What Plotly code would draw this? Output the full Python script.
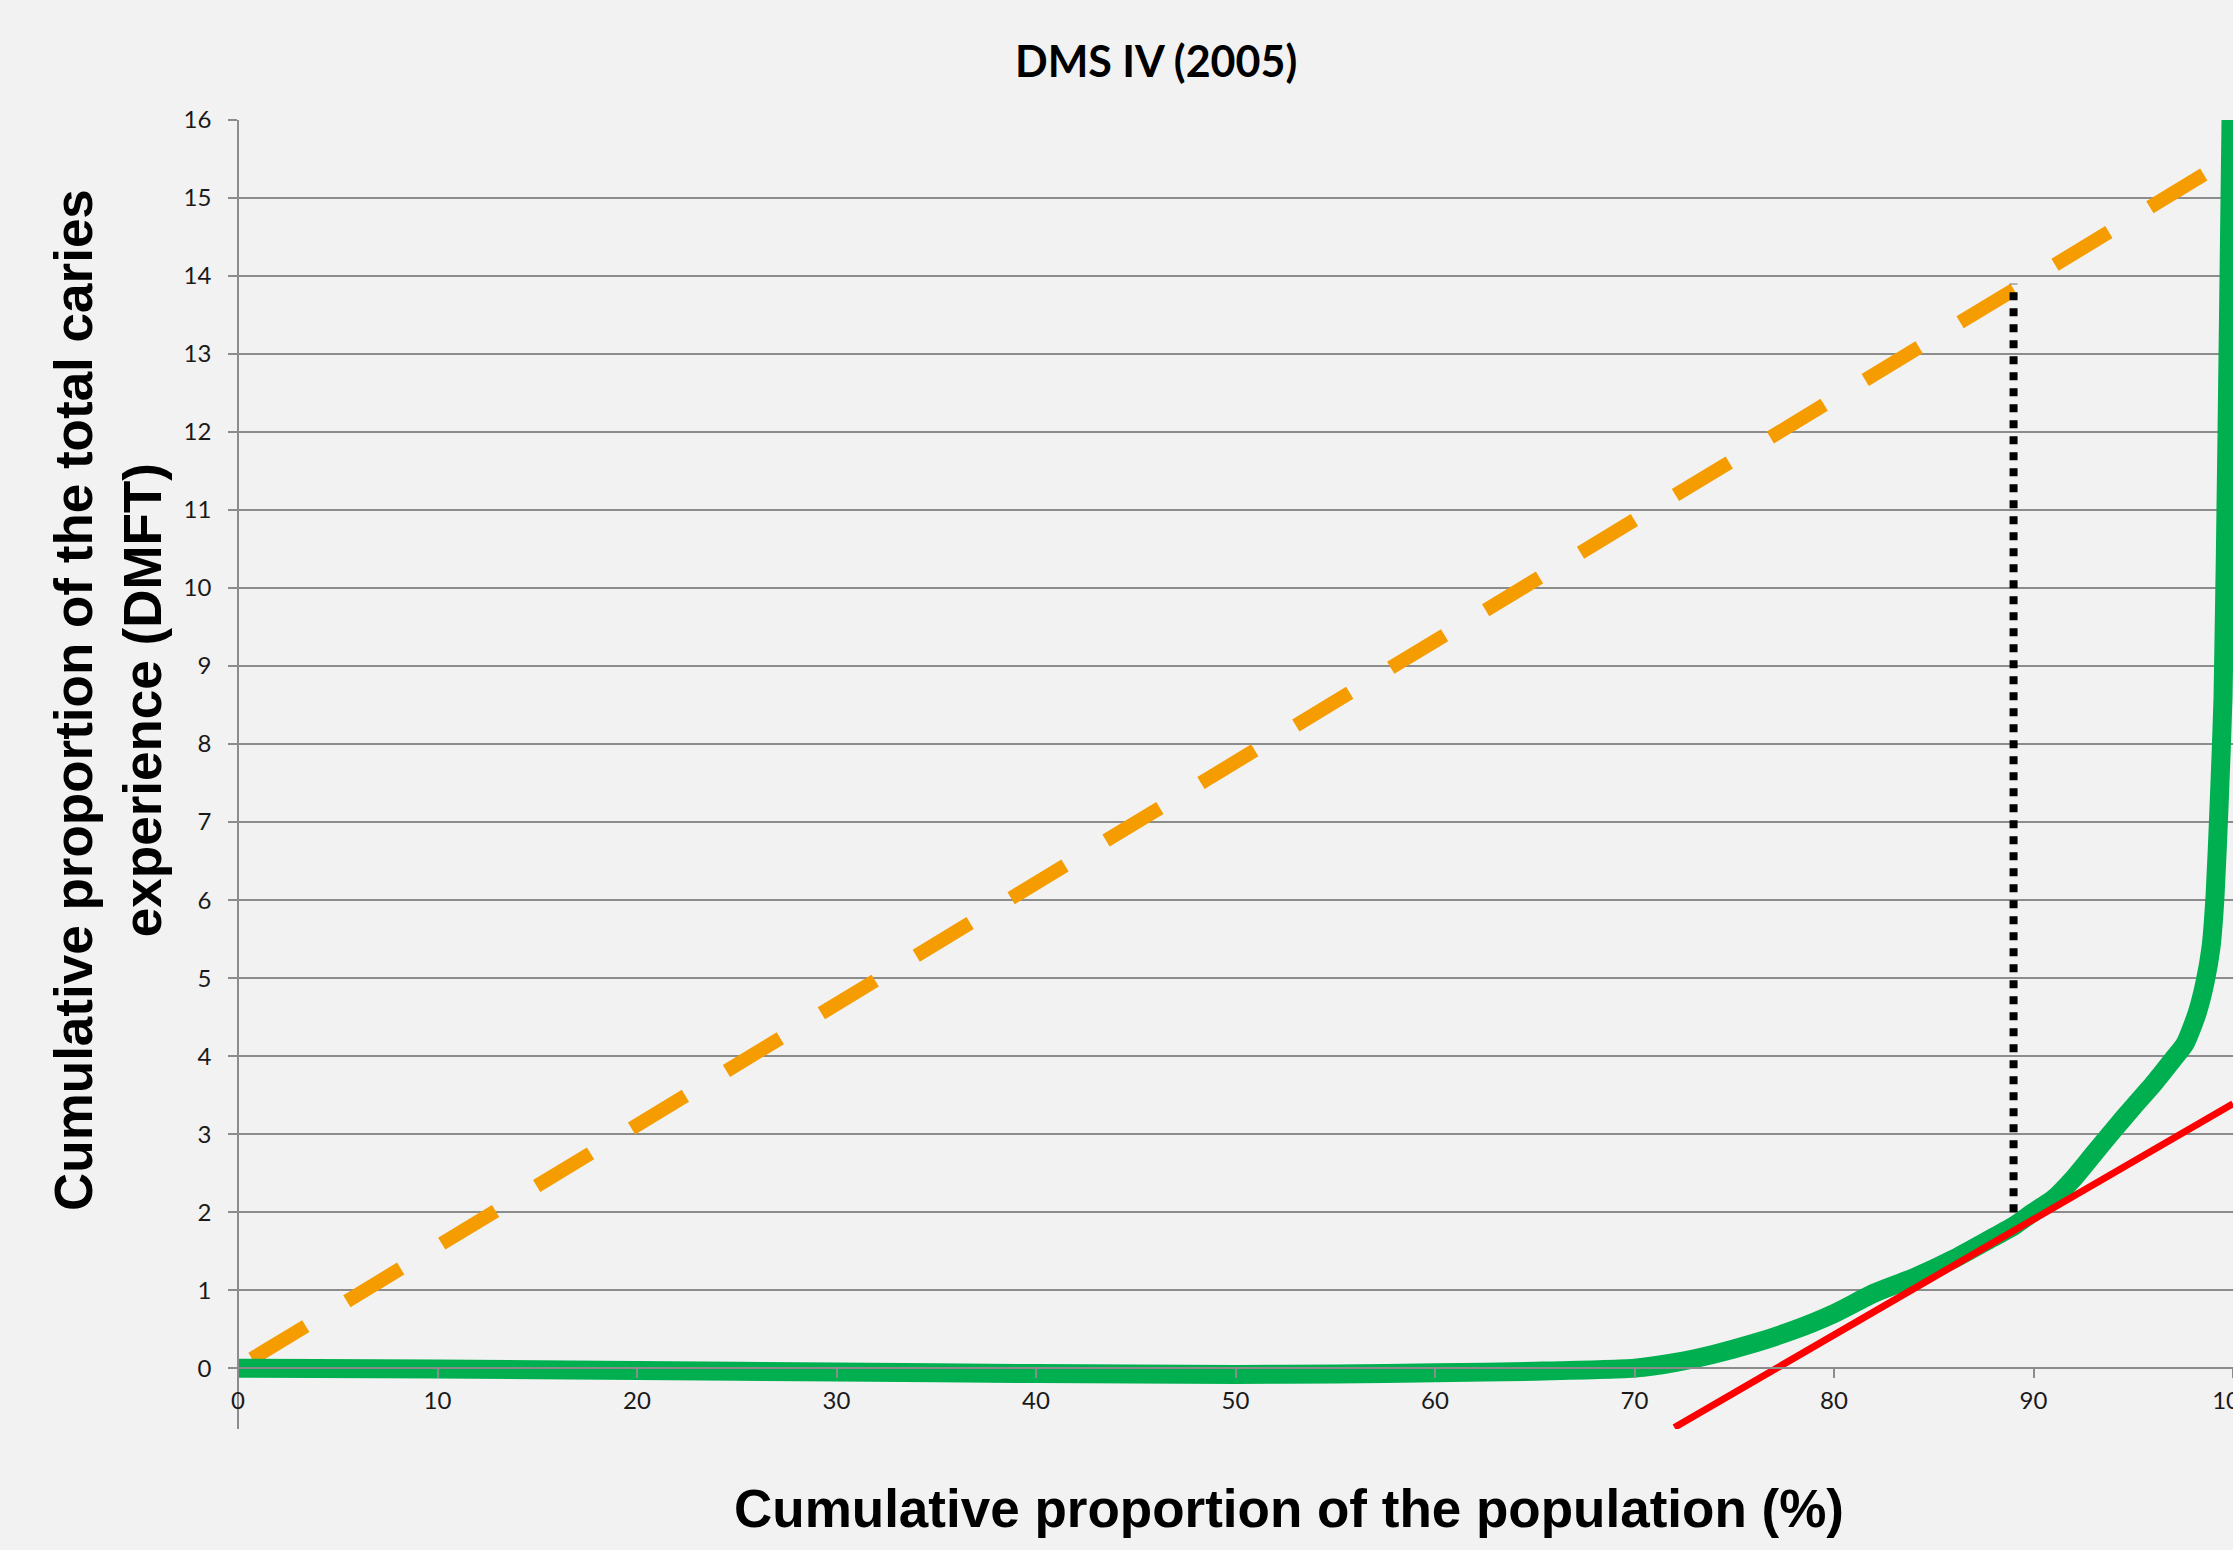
import plotly.graph_objects as go

# ---- data ----
x_ticks = [0, 10, 20, 30, 40, 50, 60, 70, 80, 90, 100]
y_ticks = list(range(0, 17))

green_x = [0, 10, 20, 30, 40, 50, 55, 60, 65, 70, 72, 74, 76, 78, 80, 82, 84, 86, 88, 89,
           90, 91, 92, 93, 94, 95, 96, 97, 97.6, 98.2, 98.6, 98.9, 99.1, 99.3, 99.5, 99.7, 99.9]
green_y = [0.0, -0.01, -0.03, -0.05, -0.07, -0.08, -0.075, -0.06, -0.04, 0.0, 0.07, 0.18, 0.32,
           0.49, 0.70, 0.96, 1.16, 1.40, 1.68, 1.82, 2.0, 2.17, 2.43, 2.74, 3.05, 3.35, 3.64,
           3.96, 4.16, 4.55, 4.95, 5.4, 6.05, 7.2, 8.6, 12.0, 16.0]

orange_x = [0.7, 99.3]
orange_y = [0.12, 15.42]

red_x = [72.0, 100.0]
red_y = [-0.76, 3.39]

dotted_x = [89.0, 89.0]
dotted_y = [2.0, 13.9]

Y_MIN, Y_MAX = -0.78, 16

fig = go.Figure()
fig.add_trace(go.Scatter(x=orange_x, y=orange_y, mode="lines",
                         line=dict(color="#f59c00", width=14, dash="63px,48px"),
                         hoverinfo="skip"))
fig.add_trace(go.Scatter(x=dotted_x, y=dotted_y, mode="lines",
                         line=dict(color="#000000", width=8, dash="8px,8px"),
                         hoverinfo="skip"))
fig.add_trace(go.Scatter(x=green_x, y=green_y, mode="lines",
                         line=dict(color="#00b050", width=19, shape="spline", smoothing=0.6),
                         hoverinfo="skip"))
fig.add_trace(go.Scatter(x=red_x, y=red_y, mode="lines",
                         line=dict(color="#ff0000", width=7),
                         hoverinfo="skip"))

grid = "#8c8c8c"
tickfont = dict(family="Lato, Open Sans, sans-serif", size=24, color="#1a1a1a")

fig.update_layout(
    width=2233, height=1550,
    margin=dict(l=238, r=0, t=120, b=121, autoexpand=False),
    paper_bgcolor="#f2f2f2", plot_bgcolor="#f2f2f2",
    showlegend=False,
    xaxis=dict(range=[0, 100], tickvals=x_ticks, ticktext=[str(v) for v in x_ticks],
               showgrid=False, zeroline=False, showline=True, linecolor=grid, linewidth=1.5,
               ticks="outside", ticklen=9, tickcolor=grid, tickwidth=1.5,
               anchor="free", position=(0 - Y_MIN) / (Y_MAX - Y_MIN), automargin=False,
               tickfont=tickfont, ticklabelstandoff=2, ticklabeloverflow="allow"),
    yaxis=dict(range=[Y_MIN, Y_MAX], tickvals=y_ticks, ticktext=[str(v) for v in y_ticks],
               showgrid=True, gridcolor=grid, gridwidth=1.5, zeroline=False,
               showline=True, linecolor=grid, linewidth=1.5,
               ticks="outside", ticklen=9, tickcolor=grid, tickwidth=1.5,
               anchor="free", position=0, automargin=False,
               tickfont=tickfont, ticklabelstandoff=12),
)

fig.add_annotation(text="<b>DMS IV (2005)</b>", xref="paper", yref="paper",
                   x=0.460, y=1.0458, xanchor="center", yanchor="middle", showarrow=False,
                   font=dict(family="Lato, Open Sans, sans-serif", size=43, color="#000000"))
fig.add_annotation(text="<b>Cumulative proportion of the population (%)</b>",
                   xref="paper", yref="paper", x=0.527, y=-0.0611,
                   xanchor="center", yanchor="middle", showarrow=False,
                   font=dict(family="Liberation Sans, Arial, sans-serif", size=53, color="#000000"))
fig.add_annotation(text="<b>Cumulative proportion of the total caries<br>experience (DMFT)</b>",
                   xref="paper", yref="paper", x=(108 - 238) / 1995, y=(1429 - 700) / 1309,
                   xanchor="center", yanchor="middle", showarrow=False, textangle=-90,
                   font=dict(family="Liberation Sans, Arial, sans-serif", size=53, color="#000000"))

fig.write_html("out.html", config={"displayModeBar": False},
               post_script="document.body.style.margin='0';document.body.style.overflow='hidden';"
                           "document.documentElement.style.overflow='hidden';")
